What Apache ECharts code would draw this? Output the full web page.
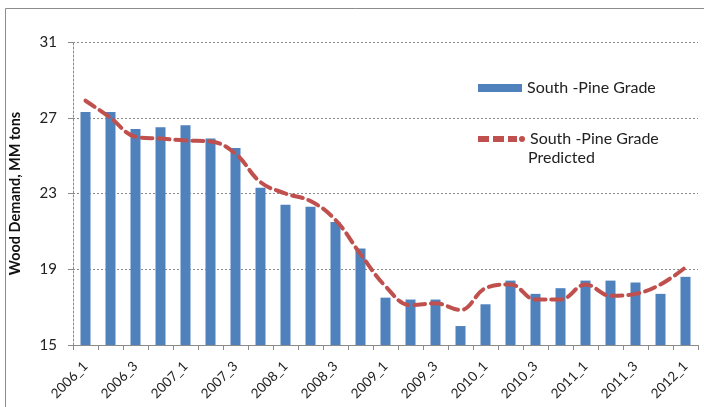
<!DOCTYPE html>
<html>
<head>
<meta charset="utf-8">
<script src="https://cdn.jsdelivr.net/npm/echarts@6/dist/echarts.min.js"></script>
<style>
  html, body { margin: 0; padding: 0; background: #fff; }
  #chart { width: 704px; height: 407px; }
</style>
</head>
<body>
<div id="chart"></div>
<script>
// quarters 2006_1 .. 2012_1
var quarters = [
    "2006_1", "2006_2", "2006_3", "2006_4",
    "2007_1", "2007_2", "2007_3", "2007_4",
    "2008_1", "2008_2", "2008_3", "2008_4",
    "2009_1", "2009_2", "2009_3", "2009_4",
    "2010_1", "2010_2", "2010_3", "2010_4",
    "2011_1", "2011_2", "2011_3", "2011_4",
    "2012_1"
];
var actual = [
    27.3, 27.3, 26.4, 26.5, 26.6, 25.9, 25.4, 23.3, 22.4, 22.3, 21.5, 20.1,
    17.5, 17.4, 17.4, 16.0, 17.15, 18.4, 17.7, 18.0, 18.4, 18.4, 18.3, 17.7,
    18.6
];
var predicted = [
    27.9, 27.0, 26.0, 25.9, 25.8, 25.75, 25.1, 23.6, 23.0, 22.6, 21.6, 19.8,
    18.1, 17.1, 17.2, 16.85, 18.0, 18.2, 17.4, 17.4, 18.2, 17.6, 17.7, 18.2,
    19.1
];
var yTicks = [15, 19, 23, 27, 31];

var seriesNames = ["South -Pine Grade", "South -Pine Grade Predicted"];
var fontName = "Lato";

// dashed line + dot, like the excel legend key
var dashIcon = "path://M0,0h11v6H0z M15,0h11v6H15z M30,0h9v6H30z M41,3a3,3 0 1,0 6,0a3,3 0 1,0 -6,0z";

var chart = echarts.init(document.getElementById("chart"));
chart.setOption({
    animation: false,
    backgroundColor: "#fff",
    grid: {
        left: 67,
        right: 6,
        top: 42,
        bottom: 62
    },
    legend: [
        {
            data: [seriesNames[0]],
            left: 478,
            top: 80,
            padding: 0,
            itemWidth: 44,
            itemHeight: 8,
            itemGap: 5,
            icon: "rect",
            textStyle: { fontFamily: fontName, fontSize: 16, color: "#222" }
        },
        {
            data: [seriesNames[1]],
            left: 478,
            top: 131,
            padding: 0,
            itemWidth: 47,
            itemHeight: 6,
            itemGap: 3,
            icon: dashIcon,
            formatter: function () {
                return "South -Pine Grade";
            },
            textStyle: { fontFamily: fontName, fontSize: 16, color: "#222" }
        }
    ],
    graphic: [
        {
            type: "rect",
            left: 3,
            top: 6,
            shape: { width: 720, height: 420 },
            style: { fill: "none", stroke: "#8c8c8c", lineWidth: 1 },
            silent: true
        },
        {
            type: "text",
            left: 528,
            top: 150,
            style: { text: "Predicted", fontFamily: fontName, fontSize: 16, fill: "#222" }
        }
    ],
    xAxis: {
        type: "category",
        data: quarters,
        boundaryGap: true,
        axisLine: { lineStyle: { color: "#8a8a8a", width: 1 } },
        axisTick: { show: true, interval: 0, length: 5, lineStyle: { color: "#8a8a8a" } },
        axisLabel: {
            interval: 1,
            rotate: 45,
            margin: 19,
            fontFamily: fontName,
            fontSize: 13.5,
            color: "#222"
        },
        splitLine: { show: false }
    },
    yAxis: {
        type: "value",
        min: yTicks[0],
        max: yTicks[yTicks.length - 1],
        interval: 4,
        name: "Wood Demand, MM tons",
        nameLocation: "middle",
        nameGap: 50,
        nameTextStyle: { fontFamily: fontName, fontSize: 14.5, fontWeight: "bold", color: "#111" },
        axisLine: { show: true, lineStyle: { color: "#8a8a8a", type: [2, 2] } },
        axisTick: { show: true, length: 5, lineStyle: { color: "#8a8a8a" } },
        axisLabel: { fontFamily: fontName, fontSize: 15, color: "#222", margin: 16 },
        splitLine: { show: true, lineStyle: { color: "#8a8a8a", type: [2, 2], width: 1 } }
    },
    series: [
        {
            name: seriesNames[0],
            type: "bar",
            data: actual,
            barWidth: 10,
            itemStyle: { color: "#4F81BD" }
        },
        {
            name: seriesNames[1],
            type: "line",
            data: predicted,
            smooth: 0.4,
            symbol: "none",
            itemStyle: { color: "#C0504D" },
            lineStyle: { color: "#C0504D", width: 4, type: [11, 6], cap: "round" }
        }
    ]
});
</script>
</body>
</html>
